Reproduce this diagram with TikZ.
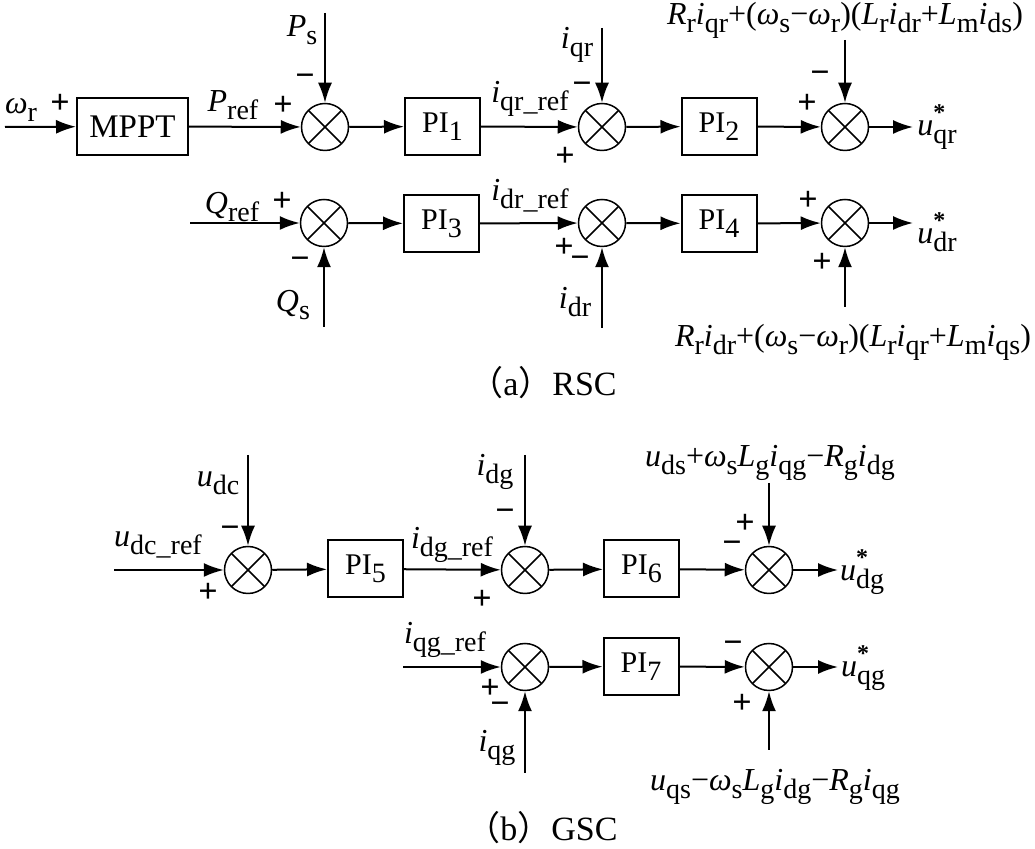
\documentclass[tikz,border=0pt]{standalone}
\usepackage{fontspec}
\setmainfont{Liberation Serif}
\newfontfamily\cjk{Noto Sans CJK SC}
\usetikzlibrary{arrows.meta}
\newcommand{\sbs}[1]{\raisebox{-4pt}{\fontsize{14}{14}\selectfont #1}}
\newcommand{\vv}[2]{\textit{#1}\sbs{#2}}
\newcommand{\vst}[2]{\textit{#1}\rlap{\raisebox{7.5pt}{\fontsize{12}{12}\selectfont\bfseries *}}\sbs{#2}}

\begin{document}
\begin{tikzpicture}[x=0.5pt, y=-0.5pt,
    blk/.style={draw, line width=1pt, minimum width=37.5pt, minimum height=28.5pt, inner sep=0pt, font=\fontsize{15}{17}\selectfont},
    sumj/.style={draw, circle, line width=0.75pt, minimum size=23.5pt, inner sep=0pt,
      path picture={\draw[line width=0.75pt] (path picture bounding box.north west) -- (path picture bounding box.south east)
        (path picture bounding box.north east) -- (path picture bounding box.south west);}},
    arr/.style={-{Latex[length=10pt, width=7pt]}, line width=1pt},
    lbl/.style={inner sep=0pt, font=\fontsize{16}{18}\selectfont},
    sgn/.style={inner sep=0pt, font=\fontsize{17}{18}\selectfont\bfseries}]
    \useasboundingbox (0,0) rectangle (1035,849);

    \node[blk, minimum width=55.5pt, font=\fontsize{16.5}{18}\selectfont] (mppt) at (132.5,126.5) {MPPT};
    \node[sumj] (s1) at (325,127) {};
    \node[blk] (pi1) at (442.5,126.5) {PI\sbs{1}};
    \node[sumj] (s2) at (602,127) {};
    \node[blk] (pi2) at (719,126.5) {PI\sbs{2}};
    \node[sumj] (s3) at (845,127) {};
    \node[sumj] (s4) at (324,223) {};
    \node[blk] (pi3) at (441.5,223.5) {PI\sbs{3}};
    \node[sumj] (s5) at (602,223) {};
    \node[blk] (pi4) at (719,223.5) {PI\sbs{4}};
    \node[sumj] (s6) at (845,223) {};

    \coordinate (wr) at (5,127);
    \coordinate (ps) at (325,13);
    \coordinate (iqr) at (602,28);
    \coordinate (c3) at (845,40);
    \coordinate (oqr) at (913,127);
    \coordinate (qref) at (190,223);
    \coordinate (qs) at (324,327);
    \coordinate (idr) at (602,328);
    \coordinate (c6) at (845,307);
    \coordinate (odr) at (913,223);

    \draw[arr] (wr) -- (mppt);
    \draw[arr] (mppt) -- (s1);
    \draw[arr] (ps) -- (s1);
    \draw[arr] (s1) -- (pi1);
    \draw[arr] (pi1) -- (s2);
    \draw[arr] (iqr) -- (s2);
    \draw[arr] (s2) -- (pi2);
    \draw[arr] (pi2) -- (s3);
    \draw[arr] (c3) -- (s3);
    \draw[arr] (s3) -- (oqr);
    \draw[arr] (qref) -- (s4);
    \draw[arr] (qs) -- (s4);
    \draw[arr] (s4) -- (pi3);
    \draw[arr] (pi3) -- (s5);
    \draw[arr] (idr) -- (s5);
    \draw[arr] (s5) -- (pi4);
    \draw[arr] (pi4) -- (s6);
    \draw[arr] (c6) -- (s6);
    \draw[arr] (s6) -- (odr);

    \node[lbl] (lwr) at (21,110) {\vv{ω}{r}};
    \node[sgn] (g1) at (60,104) {+};
    \node[lbl] (lpref) at (233,105) {\vv{P}{ref}};
    \node[sgn] (g2) at (283,106) {+};
    \node[lbl] (lps) at (302,30) {\vv{P}{s}};
    \node[sgn] (g3) at (305,80) {−};
    \node[lbl] (liqrref) at (530,99) {\vv{i}{qr\_ref}};
    \node[lbl] (liqr) at (577,45) {\vv{i}{qr}};
    \node[sgn] (g4) at (582,88) {−};
    \node[sgn] (g5) at (565,157) {+};
    \node[sgn] (g6) at (807,104) {+};
    \node[sgn] (g7) at (820,77) {−};
    \node[lbl] (f1) at (845,20) {\vv{R}{r}\vv{i}{qr}+(\vv{ω}{s}−\vv{ω}{r})(\vv{L}{r}\vv{i}{dr}+\vv{L}{m}\vv{i}{ds})};
    \node[lbl] (luqr) at (937,127) {\vst{u}{qr}};

    \node[lbl] (lqref) at (232,207) {\vv{Q}{ref}};
    \node[sgn] (g8) at (282,202) {+};
    \node[sgn] (g9) at (300,263) {−};
    \node[lbl] (lqs) at (293,305) {\vv{Q}{s}};
    \node[lbl] (lidrref) at (530,196) {\vv{i}{dr\_ref}};
    \node[sgn] (g10) at (564,248) {+};
    \node[sgn] (g11) at (580,262) {−};
    \node[lbl] (lidr) at (575,302) {\vv{i}{dr}};
    \node[sgn] (g12) at (808,201) {+};
    \node[sgn] (g13) at (822,263) {+};
    \node[lbl] (f2) at (853,342) {\vv{R}{r}\vv{i}{dr}+(\vv{ω}{s}−\vv{ω}{r})(\vv{L}{r}\vv{i}{qr}+\vv{L}{m}\vv{i}{qs})};
    \node[lbl] (ludr) at (937,232) {\vst{u}{dr}};
    \node[lbl, font=\fontsize{17}{20}\selectfont] (capa) at (543,383) {{\cjk （}a{\cjk ）}RSC};

    \node[sumj] (s7) at (248,570) {};
    \node[blk] (pi5) at (365.5,569) {PI\sbs{5}};
    \node[sumj] (s8) at (525,570) {};
    \node[blk] (pi6) at (641.5,569) {PI\sbs{6}};
    \node[sumj] (s9) at (769,570) {};
    \node[sumj] (s10) at (525,667) {};
    \node[blk] (pi7) at (641,666.5) {PI\sbs{7}};
    \node[sumj] (s11) at (769,667) {};

    \coordinate (udcref) at (114,570);
    \coordinate (udc) at (248,455);
    \coordinate (idg) at (525,455);
    \coordinate (c9) at (769,483);
    \coordinate (odg) at (838,570);
    \coordinate (iqgref) at (403,667);
    \coordinate (iqg) at (525,773);
    \coordinate (c11) at (769,750);
    \coordinate (oqg) at (838,667);

    \draw[arr] (udcref) -- (s7);
    \draw[arr] (udc) -- (s7);
    \draw[arr] (s7) -- (pi5);
    \draw[arr] (pi5) -- (s8);
    \draw[arr] (idg) -- (s8);
    \draw[arr] (s8) -- (pi6);
    \draw[arr] (pi6) -- (s9);
    \draw[arr] (c9) -- (s9);
    \draw[arr] (s9) -- (odg);
    \draw[arr] (iqgref) -- (s10);
    \draw[arr] (iqg) -- (s10);
    \draw[arr] (s10) -- (pi7);
    \draw[arr] (pi7) -- (s11);
    \draw[arr] (c11) -- (s11);
    \draw[arr] (s11) -- (oqg);

    \node[lbl] (ludcref) at (158,545) {\vv{u}{dc\_ref}};
    \node[sgn] (g14) at (208,593) {+};
    \node[lbl] (ludc) at (218,483) {\vv{u}{dc}};
    \node[sgn] (g15) at (230,532) {−};
    \node[lbl] (lidgref) at (452,545) {\vv{i}{dg\_ref}};
    \node[sgn] (g16) at (482,600) {+};
    \node[lbl] (lidg) at (495,472) {\vv{i}{dg}};
    \node[sgn] (g17) at (505,515) {−};
    \node[lbl] (f3) at (770,463) {\vv{u}{ds}+\vv{ω}{s}\vv{L}{g}\vv{i}{qg}−\vv{R}{g}\vv{i}{dg}};
    \node[sgn] (g18) at (745,524) {+};
    \node[sgn] (g19) at (732,547) {−};
    \node[lbl] (ludg) at (862,572) {\vst{u}{dg}};
    \node[lbl] (liqgref) at (445,640) {\vv{i}{qg\_ref}};
    \node[sgn] (g20) at (490,689) {+};
    \node[sgn] (g21) at (500,708) {−};
    \node[lbl] (liqg) at (497,748) {\vv{i}{qg}};
    \node[sgn] (g22) at (733,647) {−};
    \node[sgn] (g23) at (742,704) {+};
    \node[lbl] (f4) at (775,787) {\vv{u}{qs}−\vv{ω}{s}\vv{L}{g}\vv{i}{dg}−\vv{R}{g}\vv{i}{qg}};
    \node[lbl] (luqg) at (863,668) {\vst{u}{qg}};
    \node[lbl, font=\fontsize{17}{20}\selectfont] (capb) at (542,828) {{\cjk （}b{\cjk ）}GSC};
  \end{tikzpicture}
\end{document}
